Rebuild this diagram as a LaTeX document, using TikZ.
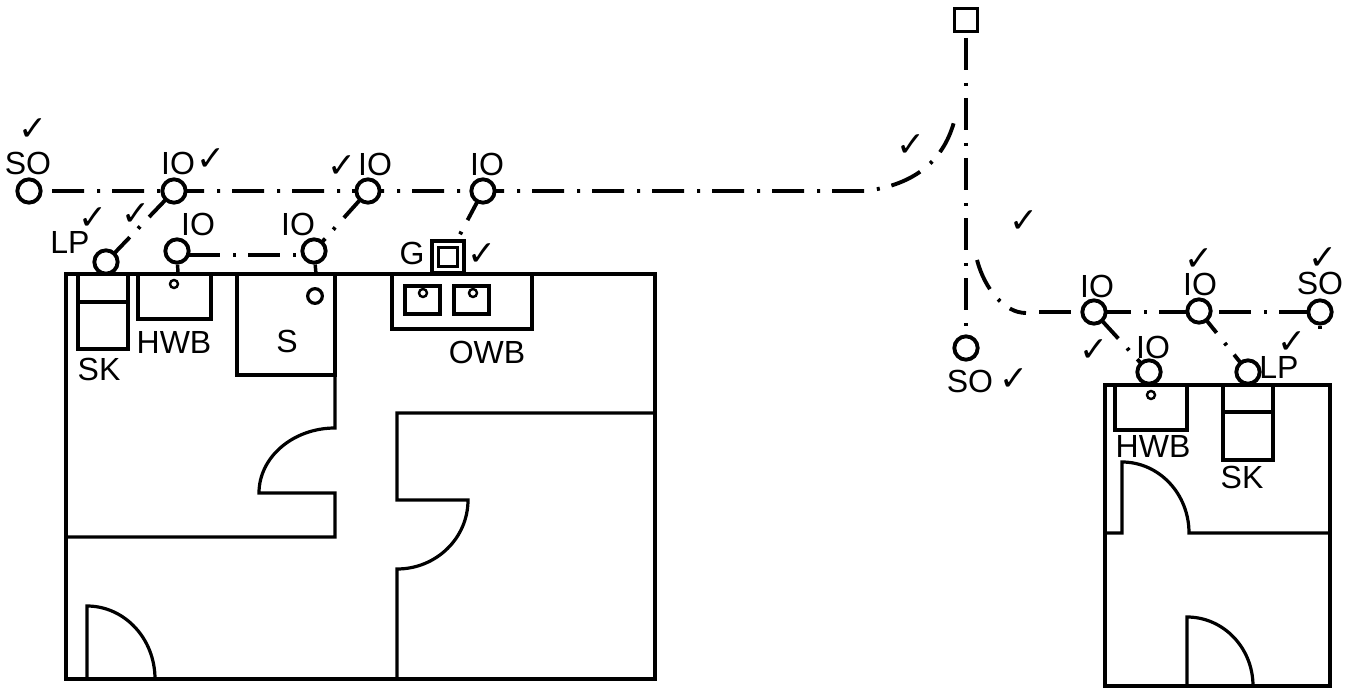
\documentclass[tikz,border=0pt]{standalone}
\usepackage{fontspec}
\setmainfont{Liberation Sans}
\newfontfamily\tickfont{DejaVu Sans}
\usetikzlibrary{backgrounds}
\tikzset{
  wall/.style={line width=2.4pt},
  topwall/.style={line width=2.9pt},
  fixture/.style={line width=2.6pt},
  pipe/.style={line width=2.9pt,dash pattern=on 24pt off 9.75pt on 2.25pt off 9pt},
  stub/.style={line width=2.6pt},
  fitting/.style={circle,draw,fill=white,line width=2.9pt,minimum size=17.5pt,inner sep=0pt},
  tap/.style={circle,draw,line width=1.8pt,minimum size=6pt,inner sep=0pt},
  vent/.style={rectangle,draw,fill=white,line width=2.6pt,minimum size=17pt,inner sep=0pt},
  gully/.style={rectangle,draw,fill=white,line width=2.6pt,minimum size=24pt,inner sep=0pt},
  lbl/.style={inner sep=0pt,font=\fontsize{24}{26}\selectfont},
  tick/.style={inner sep=0pt,xshift=1pt,yshift=-1pt,font=\tickfont\fontsize{26}{27}\selectfont}
}
\begin{document}
\begin{tikzpicture}[x=0.75pt,y=-0.75pt]
\useasboundingbox (0,0) rectangle (1352,688);
\draw[wall] (66,274) rectangle (655,679);
\draw[topwall] (66,274) -- (532,274);
\draw[wall] (66,537) -- (335,537) -- (335,493) -- (259,493) arc[start angle=180,end angle=270,x radius=76,y radius=65] -- (335,274);
\draw[wall] (655,413) -- (397,413) -- (397,500) -- (468,500) arc[start angle=0,end angle=90,x radius=71,y radius=69] -- (397,679);
\draw[wall] (87,679) -- (87,606) arc[start angle=-90,end angle=0,x radius=68,y radius=73];
\draw[fixture] (78,274) rectangle (128,349);
\draw[fixture] (78,302) -- (128,302);
\draw[fixture] (138,274) rectangle (211,319);
\draw[fixture] (237,274) rectangle (335,375);
\draw[fixture] (392,274) rectangle (532,329);
\draw[fixture] (405,286) rectangle (440,314);
\draw[fixture] (454,286) rectangle (489,314);
\draw[wall] (1105,385) rectangle (1330,686);
\draw[topwall] (1105,385) -- (1273,385);
\draw[wall] (1105,533) -- (1122,533) -- (1122,462) arc[start angle=-90,end angle=0,x radius=67,y radius=71] -- (1330,533);
\draw[wall] (1187,686) -- (1187,617) arc[start angle=-90,end angle=0,x radius=66,y radius=69];
\draw[fixture] (1115,385) rectangle (1187,430);
\draw[fixture] (1223,385) rectangle (1273,460);
\draw[fixture] (1223,412) -- (1273,412);
\node[tap] (taphwb) at (174,284) {};
\node[tap,minimum size=11pt,line width=2.4pt] (taps) at (315,296) {};
\node[tap] (tapowba) at (423,293) {};
\node[tap] (tapowbb) at (473,293) {};
\node[tap] (taphwbr) at (1151,395) {};
\node[fitting] (soa) at (29,191) {};
\node[fitting] (ioa) at (174,191) {};
\node[fitting] (lpa) at (106,262) {};
\node[fitting] (iob) at (177,251) {};
\node[fitting] (ioc) at (314,251) {};
\node[fitting] (iod) at (368,191) {};
\node[fitting] (ioe) at (483,191) {};
\node[gully] (ga) at (448,257) {};
\node[rectangle,draw,line width=2.6pt,minimum size=14pt,inner sep=0pt] (gb) at (448,257) {};
\node[vent] (vent) at (966,20) {};
\node[fitting] (sob) at (966,348) {};
\node[fitting] (iof) at (1094,312) {};
\node[fitting] (iog) at (1199,311) {};
\node[fitting] (soc) at (1320,312) {};
\node[fitting] (ioh) at (1149,372) {};
\node[fitting] (lpb) at (1248,372) {};
\coordinate (benda) at (865,191);
\coordinate (enda) at (955,118);
\coordinate (bendb) at (977,260);
\coordinate (endb) at (1026,313);
\coordinate (startc) at (1039,312);
\coordinate (stubb) at (178,274);
\coordinate (stubc) at (316,274);
\coordinate (stubs) at (1320,329);
\begin{scope}[on background layer]
\draw[pipe,dash phase=27.75pt] (soa.center) -- (ioa.center) -- (iod.center) -- (ioe.center) -- (benda) .. controls (915,185) and (945,160) .. (enda);
\draw[pipe,dash phase=42pt] (ioa.center) -- (lpa.center);
\draw[pipe,dash phase=42pt] (iod.center) -- (ioc.center);
\draw[pipe,dash phase=44.25pt] (ioe.center) -- (ga.center);
\draw[pipe,dash phase=36.75pt] ([yshift=-3pt]iob.center) -- ([yshift=-3pt]ioc.center);
\draw[pipe,dash phase=31.5pt] (vent.center) -- (sob.center);
\draw[pipe] (bendb) .. controls (985,290) and (1005,313) .. (endb);
\draw[pipe] (startc) -- (soc.center);
\draw[pipe,dash phase=42pt] (iof.center) -- (ioh.center);
\draw[pipe,dash phase=3pt] (iog.center) -- (lpb.center);
\draw[stub] (iob) -- (stubb);
\draw[stub] (ioc) -- (stubc);
\draw[stub] (soc) -- (stubs);
\end{scope}
\node[lbl] (lso) at (28,163) {SO};
\node[lbl] (lioa) at (178,163) {IO};
\node[lbl] (llp) at (70,242) {LP};
\node[lbl] (liob) at (198,224) {IO};
\node[lbl] (lioc) at (298,224) {IO};
\node[lbl] (liod) at (375,164) {IO};
\node[lbl] (lioe) at (487,164) {IO};
\node[lbl] (lg) at (412,253) {G};
\node[lbl] (lhwb) at (174,342) {HWB};
\node[lbl] (lsk) at (99,369) {SK};
\node[lbl] (ls) at (287,341) {S};
\node[lbl] (lowb) at (487,352) {OWB};
\node[lbl] (liof) at (1097,286) {IO};
\node[lbl] (liog) at (1200,284) {IO};
\node[lbl] (lsoc) at (1320,283) {SO};
\node[lbl] (lioh) at (1153,347) {IO};
\node[lbl] (llpb) at (1279,367) {LP};
\node[lbl] (lsob) at (970,381) {SO};
\node[lbl] (lhwbr) at (1153,446) {HWB};
\node[lbl] (lskr) at (1242,477) {SK};
\node[tick] (cka) at (32,128) {✓};
\node[tick] (ckb) at (210,158) {✓};
\node[tick] (ckc) at (92,217) {✓};
\node[tick] (ckd) at (135,213) {✓};
\node[tick] (cke) at (341,165) {✓};
\node[tick] (ckf) at (481,253) {✓};
\node[tick] (ckg) at (910,144) {✓};
\node[tick] (ckh) at (1023,220) {✓};
\node[tick] (cki) at (1198,258) {✓};
\node[tick] (ckj) at (1322,257) {✓};
\node[tick] (ckk) at (1291,341) {✓};
\node[tick] (ckl) at (1093,349) {✓};
\node[tick] (ckm) at (1013,378) {✓};
\end{tikzpicture}
\end{document}
